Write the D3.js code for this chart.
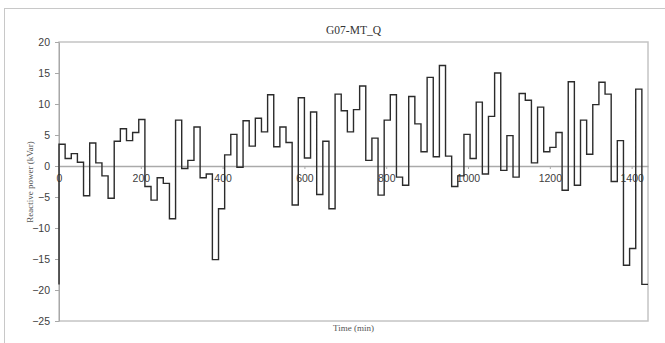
<!DOCTYPE html>
<html>
<head>
<meta charset="utf-8">
<script src="https://cdn.jsdelivr.net/npm/d3@7"></script>
<style>
  body { margin: 0; background: #fff; }
  svg { display: block; }
</style>
</head>
<body>
<div id="chart"></div>
<script>
// reactive power, one value per 15 min slot
const stepMinutes = 15;
const startValue = -19.1;
const qValues = [
    3.5, 1.2, 2.0, 0.6, -4.8, 3.7, 0.5, -1.6, -5.2, 4.0, 6.0, 4.1,
    5.4, 7.5, -3.3, -5.5, -1.9, -2.8, -8.5, 7.4, -0.4, 0.9, 6.3, -1.9,
    -1.3, -15.1, -6.9, 1.8, 5.1, -0.2, 7.3, 3.2, 7.7, 5.5, 11.5, 3.1,
    6.3, 3.8, -6.3, 11.0, 1.3, 8.7, -4.6, 4.0, -6.9, 11.6, 8.9, 5.5,
    9.1, 12.9, 0.9, 4.5, -4.7, 7.4, 11.5, -1.8, -3.1, 11.2, 6.8, 2.3,
    14.3, 1.5, 16.2, 1.6, -3.3, -1.6, 5.1, 1.2, 10.3, -1.3, 8.0, 15.0,
    -0.7, 4.9, -1.8, 11.7, 10.6, 0.5, 9.5, 2.3, 3.0, 5.4, -3.9, 13.6,
    -3.1, 7.4, 1.9, 9.9, 13.5, 11.6, -2.5, 4.1, -16.0, -13.3, 12.4, -19.1
];
const xTicks = [0, 200, 400, 600, 800, 1000, 1200, 1400];
const yTicks = [-25, -20, -15, -10, -5, 0, 5, 10, 15, 20];

const W = 665, H = 343;
const margin = { top: 42, right: 17, bottom: 22, left: 59 },
      width = W - margin.left - margin.right,
      height = H - margin.top - margin.bottom;

const svg = d3.select('#chart').append('svg')
    .attr('width', W)
    .attr('height', H);

// outer chart frame
svg.append('rect')
    .attr('x', 4.5).attr('y', 8.5)
    .attr('width', 700).attr('height', 400)
    .attr('fill', 'none')
    .attr('stroke', '#c8c8c8')
    .attr('stroke-width', 1);

const g = svg.append('g')
    .attr('transform', 'translate(' + margin.left + ',' + margin.top + ')');

const x = d3.scaleLinear().domain([0, 1440]).range([0, width]);
const y = d3.scaleLinear().domain([-25, 20]).range([height, 0]);

// plot area border
g.append('rect')
    .attr('x', 0).attr('y', 0)
    .attr('width', width).attr('height', height)
    .attr('fill', 'none')
    .attr('stroke', '#c4c4c4')
    .attr('stroke-width', 1.5);

// y axis
const yAxis = g.append('g')
    .call(d3.axisLeft(y).tickValues(yTicks).tickSize(4).tickSizeOuter(0).tickPadding(5));
yAxis.select('.domain').attr('stroke', '#a8a8a8');
yAxis.selectAll('.tick line').attr('stroke', '#a8a8a8');
yAxis.selectAll('text')
    .attr('font-family', 'Liberation Sans, Arial, sans-serif')
    .attr('font-size', 10.5)
    .attr('fill', '#404040');

// x axis on the zero line
const xAxis = g.append('g')
    .attr('transform', 'translate(0,' + y(0) + ')')
    .call(d3.axisBottom(x).tickValues(xTicks).tickFormat(d3.format('d'))
        .tickSize(3).tickSizeOuter(0).tickPadding(6));
xAxis.select('.domain').attr('stroke', '#aaaaaa').attr('stroke-width', 1.6);
xAxis.selectAll('.tick line').attr('stroke', '#aaaaaa');
xAxis.selectAll('text')
    .attr('font-family', 'Liberation Sans, Arial, sans-serif')
    .attr('font-size', 10.5)
    .attr('fill', '#404040');

// step series
const points = [{ t: 0, q: startValue }];
qValues.forEach((v, i) => points.push({ t: i * stepMinutes, q: v }));
points.push({ t: qValues.length * stepMinutes, q: qValues[qValues.length - 1] });

const line = d3.line()
    .x(d => x(d.t))
    .y(d => y(d.q))
    .curve(d3.curveStepAfter);

g.append('path')
    .datum(points)
    .attr('fill', 'none')
    .attr('stroke', '#2b2b2b')
    .attr('stroke-width', 1.4)
    .attr('d', line);

// titles
svg.append('text')
    .attr('x', margin.left + width / 2)
    .attr('y', 34)
    .attr('text-anchor', 'middle')
    .attr('font-family', 'Liberation Serif, Times New Roman, serif')
    .attr('font-size', 11.5)
    .attr('fill', '#333')
    .text('G07-MT_Q');

svg.append('text')
    .attr('transform', 'translate(33,' + 182 + ') rotate(-90)')
    .attr('text-anchor', 'middle')
    .attr('font-family', 'Liberation Serif, Times New Roman, serif')
    .attr('font-size', 9)
    .attr('fill', '#555')
    .text('Reactive power (kVar)');

svg.append('text')
    .attr('x', margin.left + width / 2)
    .attr('y', 331)
    .attr('text-anchor', 'middle')
    .attr('font-family', 'Liberation Serif, Times New Roman, serif')
    .attr('font-size', 9)
    .attr('fill', '#555')
    .text('Time (min)');
</script>
</body>
</html>
